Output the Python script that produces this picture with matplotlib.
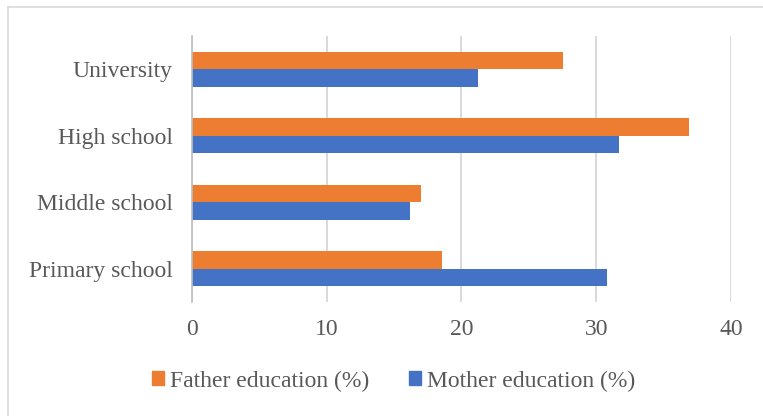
import matplotlib
matplotlib.use("Agg")
import matplotlib.pyplot as plt
from matplotlib.lines import Line2D
from matplotlib.patches import Patch
import numpy as np

categories = ["Primary school", "Middle school", "High school", "University"]
father = [18.55, 17.0, 36.9, 27.5]
mother = [30.8, 16.2, 31.7, 21.2]
series_names = ["Father education (%)", "Mother education (%)"]
xticks = [0, 10, 20, 30, 40]

plt.rcParams['font.family'] = ['Liberation Serif', 'DejaVu Serif']
txt = '#595959'
grid = '#D9D9D9'
c_f = '#ED7D31'
c_m = '#4472C4'

W, H = 763, 416
fig = plt.figure(figsize=(W/100, H/100), dpi=100)
ax = fig.add_axes([192/W, 1-302/H, (731-192)/W, (302-36)/H])

y = np.arange(len(categories))
h = 0.26
ax.barh(y + h/2, father, height=h, color=c_f, zorder=3)
ax.barh(y - h/2, mother, height=h, color=c_m, zorder=3)

ax.set_ylim(-0.5, len(categories) - 0.5)
ax.set_xlim(0, 40)
ax.set_xticks(xticks)
ax.set_xticklabels([str(t) for t in xticks])
ax.set_yticks(y)
ax.set_yticklabels(categories)
ax.tick_params(axis='both', length=0, labelsize=17, labelcolor=txt)
ax.tick_params(axis='y', pad=14)
ax.tick_params(axis='x', pad=12)
ax.xaxis.grid(True, color=grid, linewidth=1.4, zorder=0)
for s in ['top', 'right', 'bottom']:
    ax.spines[s].set_visible(False)
ax.spines['left'].set_color('#BFBFBF')
ax.spines['left'].set_linewidth(1.2)
ax.spines['left'].set_zorder(4)

handles = [Patch(color=c_f), Patch(color=c_m)]
fig.legend(handles, series_names, loc='center', bbox_to_anchor=(0.516, 1-381/H),
           ncol=2, frameon=False, fontsize=17, labelcolor=txt,
           handlelength=0.5, handleheight=0.5, handletextpad=0.25,
           columnspacing=1.7)

# chart border
fig.add_artist(Line2D([8/W, 1], [1-7/H, 1-7/H], color=grid, lw=1.2, transform=fig.transFigure))
fig.add_artist(Line2D([8/W, 8/W], [0, 1-7/H], color=grid, lw=1.2, transform=fig.transFigure))

fig.savefig("out.png", dpi=100, facecolor='white')
